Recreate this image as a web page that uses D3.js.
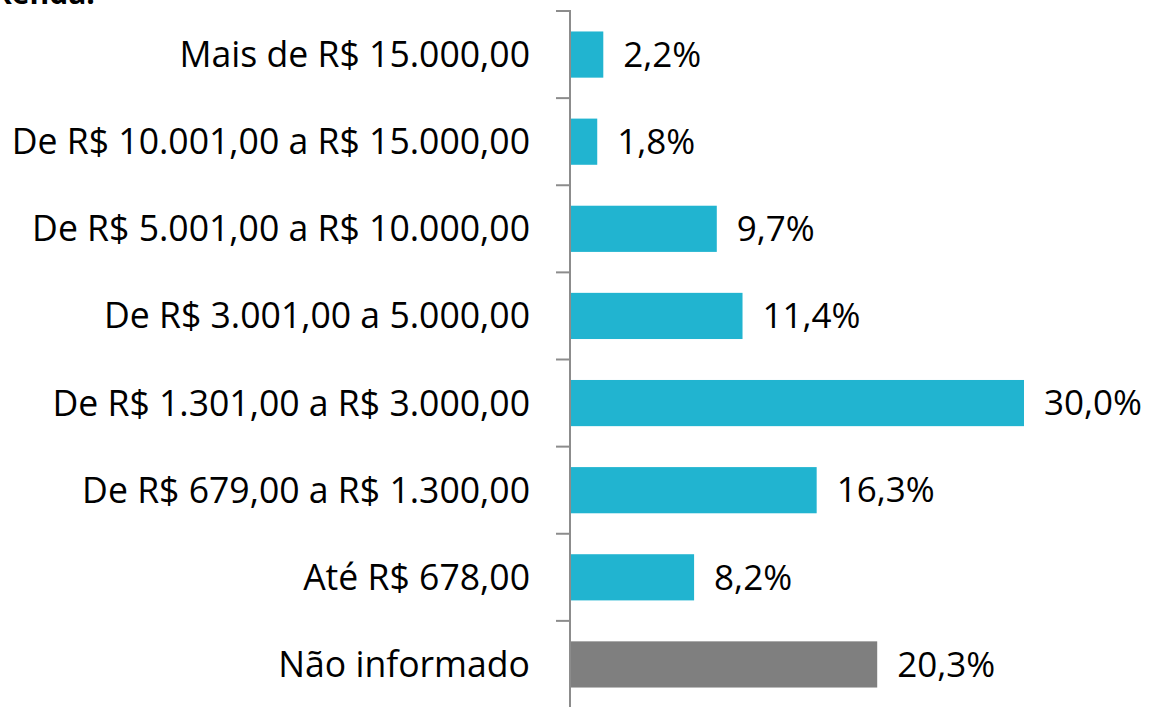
<!DOCTYPE html>
<html>
<head>
<meta charset="utf-8">
<script src="https://cdn.jsdelivr.net/npm/d3@7"></script>
<style>
  body { margin: 0; background: #fff; }
  text { font-family: "Open Sans", sans-serif; }
</style>
</head>
<body>
<div id="chart"></div>
<script>
// income ranges, top to bottom
var categories = [
  "Mais de R$ 15.000,00",
  "De R$ 10.001,00 a R$ 15.000,00",
  "De R$ 5.001,00 a R$ 10.000,00",
  "De R$ 3.001,00 a 5.000,00",
  "De R$ 1.301,00 a R$ 3.000,00",
  "De R$ 679,00 a R$ 1.300,00",
  "Até R$ 678,00",
  "Não informado"
];
var values = [2.2, 1.8, 9.7, 11.4, 30.0, 16.3, 8.2, 20.3];
var labels = ["2,2%", "1,8%", "9,7%", "11,4%", "30,0%", "16,3%", "8,2%", "20,3%"];

var width = 1151, height = 707;

var svg = d3.select("#chart").append("svg")
    .attr("width", width)
    .attr("height", height);

// cut-off title at the very top
svg.append("text")
    .attr("x", -8)
    .attr("y", 4)
    .style("font-weight", "bold")
    .style("font-size", "30px")
    .text("Renda:");

var x0 = 570;
var x = d3.scaleLinear().domain([0, 30]).range([x0, 1024]);
var y = d3.scaleBand().domain(categories).range([11, 708]).paddingInner(0.47).paddingOuter(0.235);

var g = svg.append("g");

g.selectAll("rect")
    .data(categories)
  .enter().append("rect")
    .attr("x", x0)
    .attr("y", function(d) { return y(d); })
    .attr("width", function(d, i) { return x(values[i]) - x0; })
    .attr("height", y.bandwidth())
    .attr("fill", function(d) { return d == "Não informado" ? "#7f7f7f" : "#21b4d0"; });

// value labels
g.selectAll(".val")
    .data(categories)
  .enter().append("text")
    .attr("class", "val")
    .attr("x", function(d, i) { return x(values[i]) + 20; })
    .attr("y", function(d) { return y(d) + y.bandwidth() / 2; })
    .attr("dy", ".35em")
    .style("font-size", "35px")
    .text(function(d, i) { return labels[i]; });

// category labels
g.selectAll(".cat")
    .data(categories)
  .enter().append("text")
    .attr("class", "cat")
    .attr("x", 530)
    .attr("y", function(d) { return y(d) + y.bandwidth() / 2; })
    .attr("dy", ".35em")
    .attr("text-anchor", "end")
    .style("font-size", "35.6px")
    .text(function(d) { return d; });

// axis line with ticks between bands
var step = y.step();
var tickYs = d3.range(categories.length).map(function(i) { return 11 + i * step; });
g.append("line")
    .attr("x1", x0).attr("x2", x0)
    .attr("y1", 10).attr("y2", height)
    .attr("stroke", "#8c8c8c")
    .attr("stroke-width", 2);
g.selectAll(".tick")
    .data(tickYs)
  .enter().append("line")
    .attr("x1", 556).attr("x2", x0)
    .attr("y1", function(d) { return d; })
    .attr("y2", function(d) { return d; })
    .attr("stroke", "#8c8c8c")
    .attr("stroke-width", 2);
</script>
</body>
</html>
